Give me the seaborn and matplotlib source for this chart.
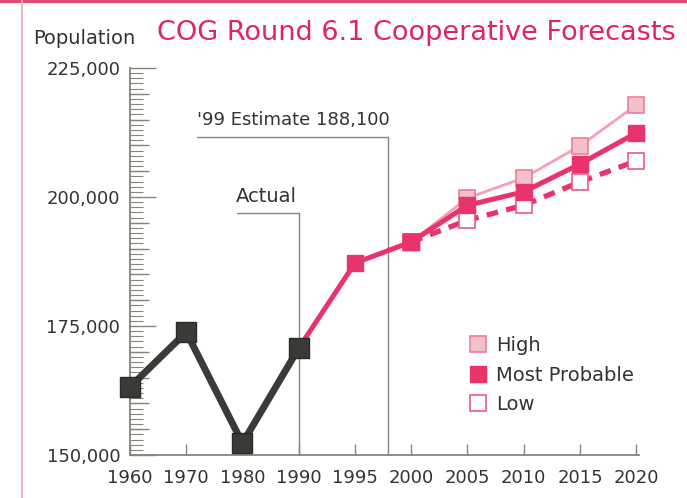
import numpy as np
import pandas as pd
import matplotlib
matplotlib.use("Agg")
import matplotlib.pyplot as plt
from matplotlib.lines import Line2D
from matplotlib.ticker import MultipleLocator, FuncFormatter
import seaborn as sns

# ---------------- data ----------------
years = ["1960", "1970", "1980", "1990", "1995", "2000", "2005", "2010", "2015", "2020"]
actual_years = ["1960", "1970", "1980", "1990"]
actual_pop = [163200, 173800, 152300, 170700]
estimate_years = ["1990", "1995", "2000"]
estimate_pop = [170700, 187200, 191300]
forecast_years = ["2000", "2005", "2010", "2015", "2020"]
high_pop = [191300, 199800, 203700, 209900, 217800]
most_pop = [191300, 198400, 201000, 206400, 212400]
low_pop = [191300, 195500, 198400, 202900, 207000]
y_ticks = [150000, 175000, 200000, 225000]
legend_labels = ["High", "Most Probable", "Low"]
estimate_label = "'99 Estimate 188,100"
actual_label = "Actual"
title = "COG Round 6.1 Cooperative Forecasts"
ylabel = "Population"

# ---------------- style ----------------
sns.set_style("white")
plt.rcParams["font.family"] = ["DejaVu Sans"]

TEXT = "#333330"
AXC = "#85857a"
DARK = "#3a3a36"
PINK = "#e8336b"
PINK_HIGH_LINE = "#f7a0b4"
PINK_HIGH_FILL = "#f3bfc9"
PINK_HIGH_EDGE = "#e8809a"
PINK_LOW_EDGE = "#ec5a82"
TITLE_C = "#e0255e"


def pos(ylist):
    return [years.index(y) for y in ylist]


df_actual = pd.DataFrame({"x": pos(actual_years), "pop": actual_pop})
df_est = pd.DataFrame({"x": pos(estimate_years), "pop": estimate_pop})
df_high = pd.DataFrame({"x": pos(forecast_years), "pop": high_pop})
df_most = pd.DataFrame({"x": pos(forecast_years), "pop": most_pop})
df_low = pd.DataFrame({"x": pos(forecast_years), "pop": low_pop})

fig = plt.figure(figsize=(6.87, 4.98), dpi=100)
ax = fig.add_axes([130 / 687, 43 / 498, 509 / 687, 387 / 498])

# forecast lines
sns.lineplot(data=df_high, x="x", y="pop", ax=ax, color=PINK_HIGH_LINE, linewidth=2.0,
             marker="s", markersize=12, markerfacecolor=PINK_HIGH_FILL,
             markeredgecolor=PINK_HIGH_EDGE, markeredgewidth=1.2, legend=False, zorder=3)
sns.lineplot(data=df_low, x="x", y="pop", ax=ax, color=PINK, linewidth=3.8,
             linestyle=(0, (2.2, 1.6)), marker="s", markersize=12, markerfacecolor="white",
             markeredgecolor=PINK_LOW_EDGE, markeredgewidth=1.2, legend=False, zorder=4)
sns.lineplot(data=df_est, x="x", y="pop", ax=ax, color=PINK, linewidth=3.6,
             marker="s", markersize=12, markerfacecolor=PINK, markeredgecolor=PINK,
             markeredgewidth=1.0, legend=False, zorder=5)
sns.lineplot(data=df_most, x="x", y="pop", ax=ax, color=PINK, linewidth=3.6,
             marker="s", markersize=12, markerfacecolor=PINK, markeredgecolor=PINK,
             markeredgewidth=1.0, legend=False, zorder=5)
# actual
sns.lineplot(data=df_actual, x="x", y="pop", ax=ax, color=DARK, linewidth=5.0,
             marker="s", markersize=14, markerfacecolor=DARK, markeredgecolor="#2a2a28",
             markeredgewidth=1.0, legend=False, zorder=6)
for ln in ax.lines:
    ln.set_clip_on(False)

# annotation guides
est_x = 4.58
ax.plot([est_x, est_x], [150000, 211600], color=AXC, lw=1.0, zorder=1)
ax.plot([1.19, est_x], [211600, 211600], color=AXC, lw=1.0, zorder=1)
ax.text(1.19, 213100, estimate_label, fontsize=13, color=TEXT, ha="left", va="bottom")
act_x = years.index("1990")
ax.plot([act_x, act_x], [150000, 196900], color=AXC, lw=1.0, zorder=1)
ax.plot([1.90, act_x], [196900, 196900], color=AXC, lw=1.0, zorder=1)
ax.text(1.88, 198300, actual_label, fontsize=14, color=TEXT, ha="left", va="bottom")

# axes
ax.set_xlim(0, 9.05)
ax.set_ylim(150000, 225000)
ax.set_xticks(range(len(years)))
ax.set_xticklabels(years)
ax.set_yticks(y_ticks)
ax.yaxis.set_major_formatter(FuncFormatter(lambda v, p: f"{int(v):,}"))
ax.yaxis.set_minor_locator(MultipleLocator(1000))
ax.tick_params(left=True, bottom=True, which="both")
ax.tick_params(axis="y", which="major", direction="in", length=19, width=1.0, color=AXC,
               labelsize=13, labelcolor=TEXT, pad=7)
ax.tick_params(axis="y", which="minor", direction="in", length=9, width=0.8, color=AXC)
ax.tick_params(axis="x", which="major", direction="in", length=8, width=1.0, color=AXC,
               labelsize=13, labelcolor=TEXT, pad=10)
mids = [v for v in range(155000, 225000, 5000) if v % 25000 != 0]
ax.hlines(mids, 0, 0.037, transform=ax.get_yaxis_transform(), color=AXC, lw=1.0, zorder=1)
ax.set_xlabel("")
ax.set_ylabel("")
for s in ["top", "right"]:
    ax.spines[s].set_visible(False)
for s in ["left", "bottom"]:
    ax.spines[s].set_color(AXC)
    ax.spines[s].set_linewidth(1.3)

# legend
handles = [
    Line2D([], [], ls="none", marker="s", markersize=12, markerfacecolor=PINK_HIGH_FILL,
           markeredgecolor=PINK_HIGH_EDGE, markeredgewidth=1.2),
    Line2D([], [], ls="none", marker="s", markersize=12, markerfacecolor=PINK,
           markeredgecolor=PINK, markeredgewidth=1.0),
    Line2D([], [], ls="none", marker="s", markersize=12, markerfacecolor="white",
           markeredgecolor=PINK_LOW_EDGE, markeredgewidth=1.2),
]
leg = ax.legend(handles, legend_labels, loc="upper left", bbox_to_anchor=(0.646, 0.328),
                frameon=False, fontsize=14, labelspacing=0.55, handletextpad=0.3,
                handlelength=1.2, borderaxespad=0)
for t in leg.get_texts():
    t.set_color(TEXT)

# titles
fig.text(157 / 687, 1 - 33 / 498, title, fontsize=19.5, color=TITLE_C, ha="left", va="center")
fig.text(33 / 687, 1 - 39 / 498, ylabel, fontsize=14, color=TEXT, ha="left", va="center")

# scanned page borders
fig.add_artist(Line2D([0, 1], [0.997, 0.997], transform=fig.transFigure, color="#e04a75", lw=3))
fig.add_artist(Line2D([22 / 687, 22 / 687], [0, 1], transform=fig.transFigure, color="#f2a6b8", lw=1.2))

fig.savefig("out.png", dpi=100)
